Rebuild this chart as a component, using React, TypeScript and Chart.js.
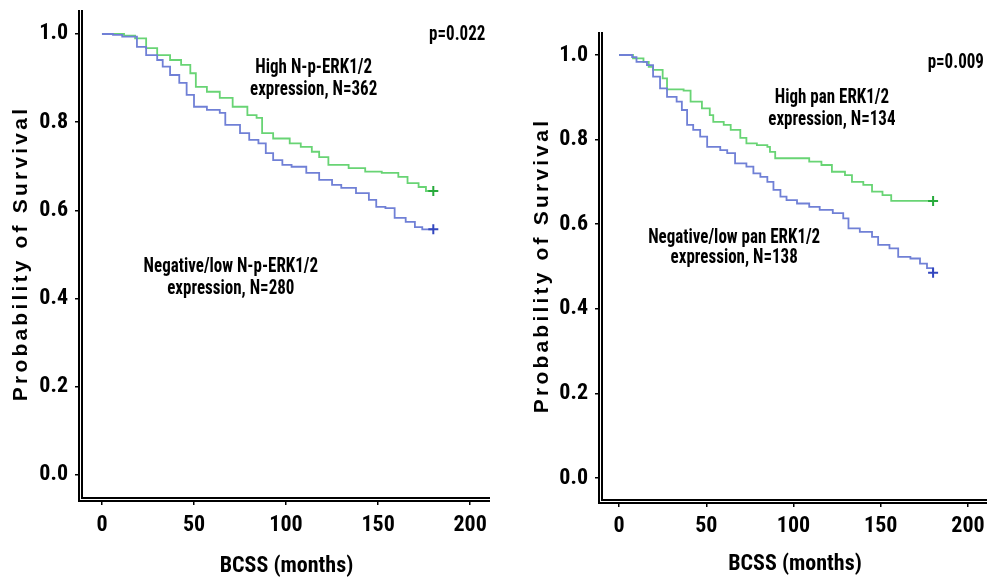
import React, { useEffect, useRef } from 'react';
import { Chart, registerables } from 'chart.js';

Chart.register(...registerables);

const X_TICKS = [0, 50, 100, 150, 200];
const Y_TICKS = [0, 0.2, 0.4, 0.6, 0.8, 1.0];
const Y_TITLE = 'Probability of Survival';
const X_TITLE = 'BCSS (months)';

// Left panel: N-p-ERK1/2
const L_HIGH_T = [0, 12, 18, 24, 30, 37, 43, 48, 51, 57, 64, 71, 79, 84, 87, 93, 102, 108, 114, 118, 123, 134, 143, 152, 161, 166, 172, 176, 180];
const L_HIGH_S = [1.0, 0.996, 0.99, 0.968, 0.952, 0.941, 0.93, 0.911, 0.88, 0.869, 0.855, 0.835, 0.816, 0.81, 0.775, 0.763, 0.752, 0.744, 0.733, 0.721, 0.703, 0.696, 0.688, 0.685, 0.676, 0.662, 0.653, 0.644, 0.644];
const L_LOW_T = [0, 6, 11, 19, 24, 30, 33, 37, 42, 46, 50, 57, 64, 67, 75, 80, 85, 89, 93, 98, 103, 111, 118, 125, 130, 138, 145, 149, 154, 159, 165, 170, 174, 180];
const L_LOW_S = [1.0, 0.998, 0.994, 0.971, 0.952, 0.941, 0.926, 0.907, 0.889, 0.862, 0.835, 0.828, 0.821, 0.794, 0.775, 0.76, 0.752, 0.73, 0.714, 0.703, 0.699, 0.685, 0.669, 0.658, 0.651, 0.639, 0.624, 0.608, 0.605, 0.583, 0.574, 0.562, 0.557, 0.557];
const L_P = 'p=0.022';
const L_HIGH_LABEL = ['High N-p-ERK1/2', 'expression, N=362'];
const L_LOW_LABEL = ['Negative/low N-p-ERK1/2', 'expression, N=280'];

// Right panel: pan ERK1/2
const R_HIGH_T = [0, 8, 14, 17, 19.5, 25, 27.5, 37, 41, 47.5, 52, 54, 60, 64, 69.5, 73, 79, 85, 86.5, 89.5, 109, 116, 122, 129.5, 133.5, 140, 145, 151, 156, 180];
const R_HIGH_S = [1.0, 0.992, 0.984, 0.972, 0.965, 0.945, 0.919, 0.916, 0.89, 0.874, 0.858, 0.842, 0.835, 0.823, 0.804, 0.791, 0.787, 0.783, 0.771, 0.756, 0.748, 0.74, 0.724, 0.716, 0.70, 0.693, 0.677, 0.669, 0.655, 0.655];
const R_LOW_T = [0, 7.5, 10, 16, 19.5, 23.5, 27.5, 33, 36, 39, 42.5, 46.5, 50.5, 58, 62, 66.5, 73, 77, 81, 85, 88.5, 92.5, 96, 102, 109, 115, 122.5, 128.5, 131.5, 138, 145, 148.5, 155, 160, 167, 172.5, 176.5, 180];
const R_LOW_S = [1.0, 0.995, 0.984, 0.976, 0.949, 0.921, 0.901, 0.89, 0.87, 0.835, 0.823, 0.807, 0.783, 0.775, 0.768, 0.744, 0.736, 0.72, 0.712, 0.70, 0.681, 0.665, 0.657, 0.649, 0.641, 0.634, 0.626, 0.614, 0.59, 0.582, 0.57, 0.551, 0.543, 0.523, 0.519, 0.507, 0.496, 0.485];
const R_P = 'p=0.009';
const R_HIGH_LABEL = ['High pan ERK1/2', 'expression, N=134'];
const R_LOW_LABEL = ['Negative/low pan ERK1/2', 'expression, N=138'];

const GREEN_LINE = 'rgb(104, 212, 116)';
const GREEN_MARK = 'rgb(40, 170, 60)';
const BLUE_LINE = 'rgb(112, 128, 214)';
const BLUE_MARK = 'rgb(50, 70, 190)';

const NARROW = "'Roboto Condensed', 'Liberation Sans Narrow', 'Arial Narrow', sans-serif";
const WIDE = "'Liberation Sans', Arial, sans-serif";

type Annot = { lines: string[]; x: number; y: number; gap: number; size: number };

type Panel = {
  left: number;
  width: number;
  yWidth: number;
  top: number;
  padRight: number;
  xHeight: number;
  xMin: number;
  xMax: number;
  yMin: number;
  yMax: number;
  xLabelPad: number;
  xTitlePad: number;
  yTitleX: number;
  high: { t: number[]; s: number[] };
  low: { t: number[]; s: number[] };
  annots: Annot[];
};

const toPts = (t: number[], s: number[]) => t.map((x, i) => ({ x, y: s[i] }));

const PANELS: Panel[] = [
  {
    left: 0, width: 497, yWidth: 83, top: 10, padRight: 5, xHeight: 86,
    xMin: -10.3, xMax: 210.8, yMin: -0.0499, yMax: 1.0544,
    xLabelPad: 7, xTitlePad: 3, yTitleX: 21,
    high: { t: L_HIGH_T, s: L_HIGH_S },
    low: { t: L_LOW_T, s: L_LOW_S },
    annots: [
      { lines: [L_P], x: 193, y: 0.998, gap: 22, size: 20 },
      { lines: L_HIGH_LABEL, x: 115, y: 0.923, gap: 22, size: 20 },
      { lines: L_LOW_LABEL, x: 70, y: 0.472, gap: 22, size: 20 },
    ],
  },
  {
    left: 497, width: 498, yWidth: 106, top: 32, padRight: 8, xHeight: 84,
    xMin: -9.2, xMax: 210.9, yMin: -0.0496, yMax: 1.0544,
    xLabelPad: 6, xTitlePad: 5, yTitleX: 45,
    high: { t: R_HIGH_T, s: R_HIGH_S },
    low: { t: R_LOW_T, s: R_LOW_S },
    annots: [
      { lines: [R_P], x: 193, y: 0.981, gap: 21, size: 20 },
      { lines: R_HIGH_LABEL, x: 122, y: 0.898, gap: 22, size: 20 },
      { lines: R_LOW_LABEL, x: 66, y: 0.567, gap: 20, size: 20 },
    ],
  },
];

function makeDataset(pts: { x: number; y: number }[], line: string, mark: string) {
  const last = pts.length - 1;
  return {
    data: pts,
    borderColor: line,
    backgroundColor: mark,
    borderWidth: 1.8,
    stepped: 'before' as const,
    pointStyle: 'cross' as const,
    pointRadius: (c: any) => (c.dataIndex === last ? 5 : 0),
    pointBorderColor: mark,
    pointBorderWidth: 2,
    pointHoverRadius: 0,
  };
}

function PanelChart({ p }: { p: Panel }) {
  const ref = useRef<HTMLCanvasElement | null>(null);
  useEffect(() => {
    if (!ref.current) return;
    const decor = {
      id: 'decor',
      afterDraw(chart: any) {
        const { ctx, chartArea } = chart;
        const { left, right, top, bottom } = chartArea;
        ctx.save();
        // double-line axes
        ctx.fillStyle = '#000';
        ctx.fillRect(left - 5, top, 5, bottom + 5 - top);
        ctx.fillRect(left - 5, bottom, right - left + 5, 5);
        ctx.fillStyle = '#fff';
        ctx.fillRect(left - 3, top, 1, bottom + 3 - top);
        ctx.fillRect(left - 3, bottom + 2, right - left + 3, 1);
        // y title
        ctx.fillStyle = '#000';
        ctx.font = `bold 21px ${WIDE}`;
        (ctx as any).letterSpacing = '3.2px';
        ctx.textAlign = 'center';
        ctx.textBaseline = 'middle';
        ctx.translate(p.yTitleX, (top + bottom) / 2);
        ctx.rotate(-Math.PI / 2);
        ctx.fillText(Y_TITLE, 0, 0);
        ctx.restore();
        // annotations (slightly condensed, like the original)
        const xs = chart.scales.x;
        const ys = chart.scales.y;
        ctx.save();
        ctx.fillStyle = '#000';
        ctx.textAlign = 'center';
        ctx.textBaseline = 'middle';
        p.annots.forEach((a) => {
          ctx.font = `bold ${a.size}px ${NARROW}`;
          const px = xs.getPixelForValue(a.x);
          const py = ys.getPixelForValue(a.y);
          a.lines.forEach((ln, i) => {
            ctx.save();
            ctx.translate(px, py + i * a.gap);
            ctx.scale(0.85, 1);
            ctx.fillText(ln, 0, 0);
            ctx.restore();
          });
        });
        ctx.restore();
      },
    };
    const chart = new Chart(ref.current, {
      type: 'line',
      data: {
        datasets: [
          makeDataset(toPts(p.low.t, p.low.s), BLUE_LINE, BLUE_MARK),
          makeDataset(toPts(p.high.t, p.high.s), GREEN_LINE, GREEN_MARK),
        ] as any,
      },
      options: {
        animation: false,
        responsive: false,
        maintainAspectRatio: false,
        events: [],
        layout: { padding: { top: p.top, right: p.padRight, left: 0, bottom: 0 } },
        plugins: { legend: { display: false }, tooltip: { enabled: false }, title: { display: false } },
        scales: {
          x: {
            type: 'linear',
            min: p.xMin,
            max: p.xMax,
            afterFit: (s: any) => {
              s.height = p.xHeight;
              s.paddingLeft = 0;
              s.paddingRight = 0;
              s.paddingTop = 0;
              s.paddingBottom = 0;
            },
            afterBuildTicks: (s: any) => { s.ticks = X_TICKS.map((v) => ({ value: v })); },
            grid: { display: true, drawOnChartArea: false, drawTicks: true, tickLength: 8, color: '#000', lineWidth: 1.5 },
            border: { display: false },
            ticks: {
              color: '#000',
              font: { family: NARROW, size: 22, weight: 'bold' },
              padding: p.xLabelPad,
              maxRotation: 0,
              autoSkip: false,
              callback: (v: any) => String(v),
            },
            title: {
              display: true,
              text: X_TITLE,
              color: '#000',
              font: { family: NARROW, size: 22, weight: 'bold' },
              padding: { top: 0, bottom: p.xTitlePad },
            },
          },
          y: {
            type: 'linear',
            min: p.yMin,
            max: p.yMax,
            afterFit: (s: any) => {
              s.width = p.yWidth;
              s.paddingLeft = 0;
              s.paddingRight = 0;
              s.paddingTop = 0;
              s.paddingBottom = 0;
            },
            afterBuildTicks: (s: any) => { s.ticks = Y_TICKS.map((v) => ({ value: v })); },
            grid: { display: true, drawOnChartArea: false, drawTicks: true, tickLength: 8, color: '#000', lineWidth: 1.5 },
            border: { display: false },
            ticks: {
              color: '#000',
              font: { family: NARROW, size: 22, weight: 'bold' },
              padding: 7,
              autoSkip: false,
              callback: (v: any) => Number(v).toFixed(1),
            },
          },
        },
      } as any,
      plugins: [decor],
    });
    return () => chart.destroy();
  }, [p]);
  return (
    <canvas
      ref={ref}
      width={p.width}
      height={583}
      style={{ position: 'absolute', left: p.left, top: 0, width: p.width, height: 583 }}
    />
  );
}

export default function App() {
  return (
    <div style={{ position: 'fixed', left: 0, top: 0, width: 995, height: 583, background: '#fff' }}>
      {PANELS.map((p, i) => (
        <PanelChart key={i} p={p} />
      ))}
    </div>
  );
}
